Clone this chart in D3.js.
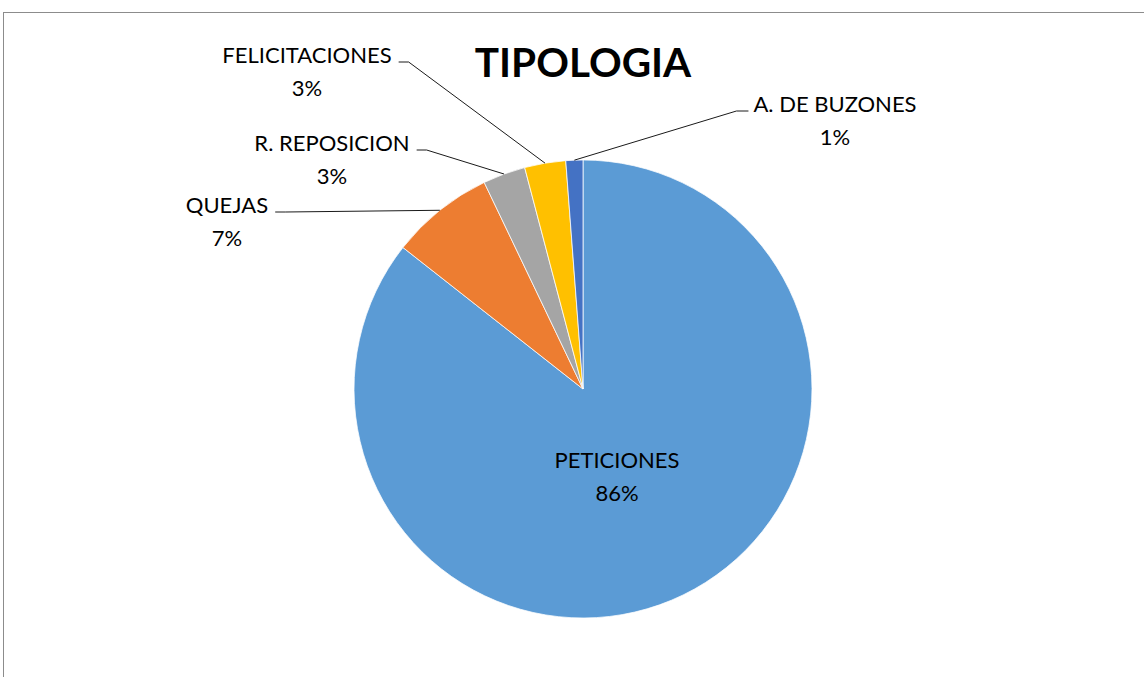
<!DOCTYPE html>
<html>
<head>
<meta charset="utf-8">
<script src="https://cdn.jsdelivr.net/npm/d3@7"></script>
<style>
  body { margin: 0; background: #fff; }
  svg text { font-family: Lato, "Open Sans", sans-serif; fill: #000; }
</style>
</head>
<body>
<div id="chart"></div>
<script>
// data (share of total, percent)
var categories = ["PETICIONES", "QUEJAS", "R. REPOSICION", "FELICITACIONES", "A. DE BUZONES"];
var values = [85.6, 7.3, 3.0, 2.9, 1.2];
var colors = ["#5B9BD5", "#ED7D31", "#A5A5A5", "#FFC000", "#4472C4"];

// label placement (center x, baseline of first line, which side the leader enters)
var labelPos = [
  {x: 617, y: 468, side: "none"},
  {x: 227, y: 213, side: "left"},
  {x: 332, y: 151, side: "left"},
  {x: 307, y: 63, side: "left"},
  {x: 835, y: 112, side: "right"}
];

var W = 1144, H = 677;
var cx = 583, cy = 389, r = 229;

var svg = d3.select("#chart").append("svg")
    .attr("width", W)
    .attr("height", H);

// chart area border (only top and left visible)
svg.append("rect")
    .attr("x", 3.5).attr("y", 12.5)
    .attr("width", W + 20).attr("height", H + 20)
    .attr("fill", "none")
    .attr("stroke", "#8c8c8c")
    .attr("stroke-width", 1);

svg.append("text")
    .attr("x", cx)
    .attr("y", 77)
    .attr("text-anchor", "middle")
    .style("font-weight", "bold")
    .style("font-size", "40.5px")
    .text("TIPOLOGIA");

var total = d3.sum(values);
var rows = categories.map(function(c, i) {
  return {name: c, value: values[i], color: colors[i], pos: labelPos[i]};
});

var pie = d3.pie().sort(null).value(function(d) { return d.value; });
var arcs = pie(rows);

var arc = d3.arc().innerRadius(0).outerRadius(r);
var edge = d3.arc().innerRadius(r).outerRadius(r);

var g = svg.append("g").attr("transform", "translate(" + cx + "," + cy + ")");

g.selectAll("path")
    .data(arcs)
    .enter()
    .append("path")
    .attr("d", arc)
    .attr("fill", function(d) { return d.data.color; })
    .attr("stroke", "#fff")
    .attr("stroke-width", 0.75);

// labels
var labels = svg.selectAll("g.lbl")
    .data(arcs)
    .enter()
    .append("g")
    .attr("class", "lbl");

labels.append("text")
    .attr("class", "name")
    .attr("x", function(d) { return d.data.pos.x; })
    .attr("y", function(d) { return d.data.pos.y; })
    .attr("text-anchor", "middle")
    .style("font-size", "22px")
    .text(function(d) { return d.data.name; });

labels.append("text")
    .attr("x", function(d) { return d.data.pos.x; })
    .attr("y", function(d) { return d.data.pos.y + 33; })
    .attr("text-anchor", "middle")
    .style("font-size", "22px")
    .text(function(d) { return Math.round(d.data.value / total * 100) + "%"; });

// leader lines
labels.each(function(d) {
  var p = d.data.pos;
  if (p.side === "none") return;
  var bb = d3.select(this).select("text.name").node().getBBox();
  var a = edge.centroid(d);
  var ax = cx + a[0], ay = cy + a[1];
  var ly = p.y - 1;
  var pts;
  if (p.side === "left") {
    var x0 = bb.x + bb.width + 7;
    var x1 = Math.min(x0 + 10, ax);
    pts = [[x0, ly], [x1, ly], [ax, ay]];
  } else {
    var x0r = bb.x - 5;
    pts = [[x0r, ly], [x0r - 12, ly], [ax, ay]];
  }
  d3.select(this).append("path")
      .attr("d", d3.line()(pts))
      .attr("fill", "none")
      .attr("stroke", "#1a1a1a")
      .attr("stroke-width", 1);
});
</script>
</body>
</html>
